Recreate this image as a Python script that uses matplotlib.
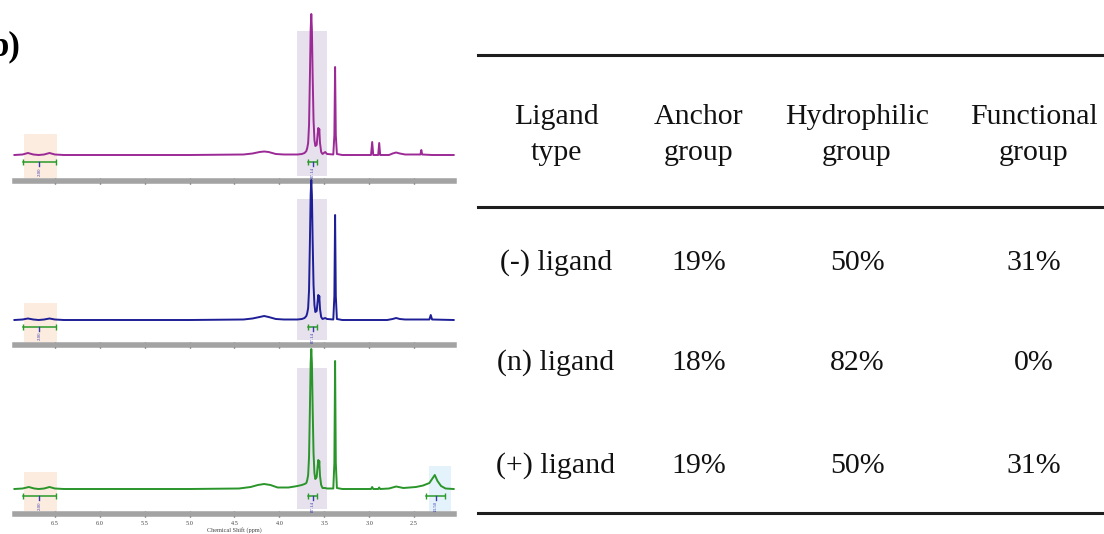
import matplotlib
matplotlib.use('Agg')
import matplotlib.pyplot as plt

W, H = 1104, 534
serif = ['Liberation Serif', 'DejaVu Serif']

# ---- NMR traces, (ppm, height above baseline) ----
top_ppm = [6.95, 6.86, 6.80, 6.74, 6.68, 6.62, 6.56, 6.50, 6.40, 5.00, 4.40, 4.30, 4.22, 4.17, 4.12, 4.04,
           3.95, 3.80, 3.75, 3.72, 3.70, 3.69, 3.68, 3.67, 3.66, 3.652, 3.645, 3.638, 3.63, 3.62, 3.61, 3.60,
           3.585, 3.575, 3.567, 3.561, 3.556, 3.548, 3.535, 3.52, 3.49, 3.47, 3.40, 3.388, 3.38, 3.372,
           3.36, 3.30, 2.98, 2.967, 2.955, 2.90, 2.889, 2.878, 2.78, 2.74, 2.70, 2.66, 2.60, 2.43,
           2.42, 2.41, 2.30, 2.06]
top_int = [0, 0.5, 2, 0.5, 0, 0.5, 2, 0.5, 0, 0, 0.5, 1.5, 3, 3.5, 3, 1,
           0.5, 0.5, 1, 2, 4, 7, 12, 30, 80, 125, 141, 125, 80, 35, 15, 9,
           10, 20, 27, 21, 26, 12, 3, 1, 3, 1, 0.5, 20, 88, 20,
           1, 0, 0, 13, 0, 0, 12, 0, 0, 1.5, 2.5, 1.5, 0.5, 0.5,
           5, 0.5, 0, 0]

mid_ppm = [6.95, 6.86, 6.80, 6.74, 6.68, 6.62, 6.56, 6.50, 6.40, 5.00, 4.40, 4.30, 4.22, 4.17, 4.12, 4.04,
           3.95, 3.80, 3.75, 3.72, 3.70, 3.69, 3.68, 3.67, 3.66, 3.652, 3.645, 3.638, 3.63, 3.62, 3.61, 3.60,
           3.585, 3.575, 3.567, 3.561, 3.556, 3.548, 3.535, 3.52, 3.49, 3.47, 3.40, 3.388, 3.38, 3.372,
           3.36, 3.30, 2.80, 2.74, 2.70, 2.66, 2.60, 2.33, 2.315, 2.30, 2.06]
mid_int = [0, 0.5, 1.5, 0.5, 0, 0.5, 1.5, 0.5, 0, 0, 0.5, 1.5, 3, 4, 3, 1,
           0.5, 0.5, 1, 2, 4, 7, 12, 30, 80, 125, 140, 125, 80, 35, 15, 8,
           9, 18, 25, 19, 24, 11, 3, 1, 2, 1, 0.5, 24, 105, 24,
           1, 0, 0, 1, 2, 1, 0.5, 0.5, 5, 0.5, 0]

bot_ppm = [6.95, 6.86, 6.79, 6.73, 6.68, 6.62, 6.56, 6.50, 6.40, 5.00, 4.45, 4.32, 4.24, 4.17, 4.10, 4.02,
           3.90, 3.83, 3.80, 3.75, 3.72, 3.70, 3.69, 3.68, 3.67, 3.66, 3.652, 3.645, 3.638, 3.63, 3.62, 3.61,
           3.60, 3.585, 3.575, 3.567, 3.561, 3.556, 3.548, 3.535, 3.52, 3.49, 3.47, 3.40, 3.388, 3.38,
           3.372, 3.36, 3.30, 2.98, 2.967, 2.955, 2.90, 2.889, 2.878, 2.78, 2.70, 2.62, 2.55, 2.48,
           2.40, 2.33, 2.30, 2.27, 2.24, 2.20, 2.15, 2.06]
bot_int = [0, 0.5, 2, 0.5, 0, 0.5, 2, 0.5, 0, 0, 0.5, 2, 4, 5, 4, 1.5,
           1.5, 2.5, 3, 4, 5, 6, 9, 14, 32, 82, 126, 140, 126, 82, 36, 16,
           10, 12, 22, 29, 22, 28, 13, 4, 1, 1, 0.5, 0.5, 26, 128,
           26, 1, 0, 0, 2, 0, 0, 1.5, 0, 0.5, 2.5, 1, 1.5, 2,
           3.5, 6, 10, 14, 8, 3, 0.5, 0]

spectra = [(top_ppm, top_int), (mid_ppm, mid_int), (bot_ppm, bot_int)]
colors = ['#9c2a96', '#1e1e96', '#2a952a']

# panel placement in pixels: gray axis bar, baseline
bar_px = [181, 345, 514]
base_px = [155, 320, 489]

# shaded regions (ppm ranges)
anchor_rng = (6.844, 6.478)
hydro_rng = (3.80, 3.467)
func_rng = (2.333, 2.089)

# integration labels
int_vals = [['2.00', '87.14'], ['2.00', '87.14'], ['2.00', '87.14', '13.50']]

# ---- table ----
headers = ['Ligand\ntype', 'Anchor\ngroup', 'Hydrophilic\ngroup', 'Functional\ngroup']
row_names = ['(-) ligand', '(n) ligand', '(+) ligand']
anchor = ['19%', '18%', '19%']
hydrophilic = ['50%', '82%', '50%']
functional = ['31%', '0%', '31%']

fig = plt.figure(figsize=(W / 100, H / 100), dpi=100)

x0_px, x1_px = 15, 454
top_h = 141
for i in range(3):
    pp, yy = spectra[i]
    below = bar_px[i] - base_px[i]
    ax = fig.add_axes([x0_px / W, 1 - bar_px[i] / H, (x1_px - x0_px) / W, (below + top_h) / H])
    ax.set_xlim(6.944, 2.056)
    ax.set_ylim(-below, top_h)
    ax.patch.set_alpha(0)
    for s in ['top', 'left', 'right']:
        ax.spines[s].set_visible(False)
    ax.spines['bottom'].set_linewidth(4)
    ax.spines['bottom'].set_color('#a3a3a3')
    ax.set_yticks([])
    ax.set_xticks([6.5, 6.0, 5.5, 5.0, 4.5, 4.0, 3.5, 3.0, 2.5])
    ax.tick_params(axis='x', direction='inout', length=4, width=1, color='#444444', pad=3)
    if i < 2:
        ax.set_xticklabels([])
    else:
        ax.set_xticklabels(['6.5', '6.0', '5.5', '5.0', '4.5', '4.0', '3.5', '3.0', '2.5'],
                           fontsize=4.5, family=serif, color='#444444')
        ax.set_xlabel('Chemical Shift (ppm)', fontsize=4.5, family=serif, color='#444444', labelpad=1)

    # shaded boxes
    ax.fill_between(anchor_rng, -below + 3, 21 if i == 0 else 17, color='#fcecdf', lw=0, zorder=0)
    ax.fill_between(hydro_rng, -below + 5, 124 if i == 0 else 121, color='#e7e1ee', lw=0, zorder=0)
    if i == 2:
        ax.fill_between(func_rng, -below + 3, 23, color='#e3f2fb', lw=0, zorder=0)

    ax.plot(pp, yy, color=colors[i], lw=1.4, clip_on=False, zorder=3)

    # integration bars
    ranges = [(6.856, 6.489), (3.678, 3.578)]
    if i == 2:
        ranges.append((2.367, 2.156))
    for (a, b), lab in zip(ranges, int_vals[i]):
        yi = -7
        ax.plot([a, b], [yi, yi], color='#2a9a2a', lw=1.1, marker='|', ms=4, mew=1, zorder=4)
        xc = (a + b) / 2
        ax.plot([xc, xc], [yi, yi - 4], color='#3b3bb0', lw=1, zorder=4)
        ax.text(xc, yi - 5, lab, rotation=90, ha='center', va='top', fontsize=3.5,
                color='#3b3bb0', family=serif)

fig.text(20 / W, 1 - 47 / H, 'b)', ha='right', va='center', fontsize=25,
         weight='bold', family=serif)

# table area
tl, tr, tt, tb = 478, 1104, 55, 513
tax = fig.add_axes([tl / W, 1 - tb / H, (tr - tl) / W, (tb - tt) / H])
tax.set_xlim(0, 1)
tax.set_ylim(0, 1)
tax.axis('off')
for yv in [1, (tb - 207) / (tb - tt), 0]:
    tax.axhline(yv, color='#1e1e1e', lw=2.2, clip_on=False)

col_x = [(x - tl) / (tr - tl) for x in [556, 699, 857, 1034]]
row_y = [(tb - y) / (tb - tt) for y in [263, 363, 466]]
head_y = (tb - 135.5) / (tb - tt)

for cx, h in zip(col_x, headers):
    tax.text(cx, head_y, h, ha='center', va='center', fontsize=21.5, family=serif,
             linespacing=1.5, color='#111111')
for j in range(3):
    vals = [row_names[j], anchor[j], hydrophilic[j], functional[j]]
    for cx, v in zip(col_x, vals):
        tax.text(cx, row_y[j], v, ha='center', va='center', fontsize=21.5, family=serif,
                 color='#111111')

plt.savefig('out.png', dpi=100)
